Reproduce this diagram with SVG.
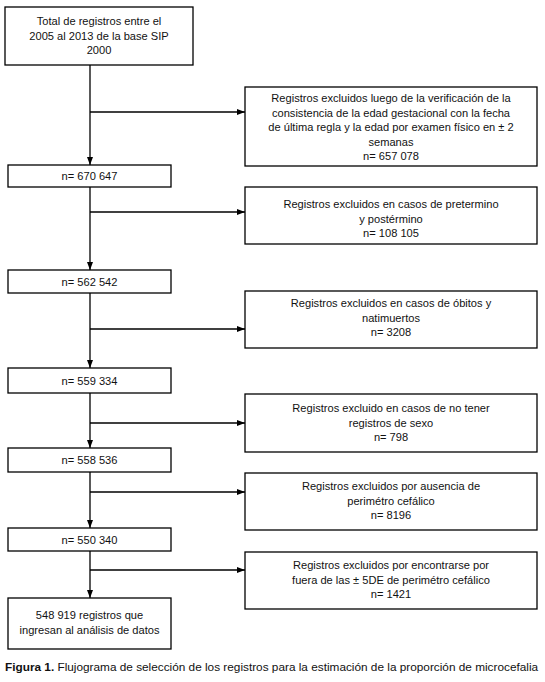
<svg xmlns="http://www.w3.org/2000/svg" width="545" height="682" viewBox="0 0 545 682">
<style>
.b{fill:#fff;stroke:#000;stroke-width:1.3}
.t{font-family:"Liberation Sans",Arial,sans-serif;font-size:11.1px;fill:#111;text-anchor:middle}
.c{stroke:#000;stroke-width:1.3;fill:none}
.cap{font-family:"Liberation Sans",Arial,sans-serif;font-size:11.8px;fill:#111}
</style>
<defs>
<marker id="ah" markerWidth="8" markerHeight="8" refX="8" refY="4" orient="auto" markerUnits="userSpaceOnUse">
<path d="M0,1 L8,4 L0,7 Z" fill="#000"/>
</marker>
</defs>
<rect width="545" height="682" fill="#fff"/>
<g id="connectors">
<line class="c" x1="90" y1="65" x2="90" y2="165" marker-end="url(#ah)"/>
<line class="c" x1="90" y1="112" x2="245" y2="112" marker-end="url(#ah)"/>
<line class="c" x1="90" y1="187" x2="90" y2="270" marker-end="url(#ah)"/>
<line class="c" x1="90" y1="212" x2="245" y2="212" marker-end="url(#ah)"/>
<line class="c" x1="90" y1="293" x2="90" y2="368" marker-end="url(#ah)"/>
<line class="c" x1="90" y1="329" x2="245" y2="329" marker-end="url(#ah)"/>
<line class="c" x1="90" y1="393" x2="90" y2="448" marker-end="url(#ah)"/>
<line class="c" x1="90" y1="423" x2="245" y2="423" marker-end="url(#ah)"/>
<line class="c" x1="90" y1="472" x2="90" y2="528" marker-end="url(#ah)"/>
<line class="c" x1="90" y1="492" x2="245" y2="492" marker-end="url(#ah)"/>
<line class="c" x1="90" y1="551" x2="90" y2="598" marker-end="url(#ah)"/>
<line class="c" x1="90" y1="570" x2="245" y2="570" marker-end="url(#ah)"/>
</g>
<g id="n1">
<rect class="b" x="5" y="7" width="188" height="58"/>
<text class="t" x="99" y="25">Total de registros entre el</text>
<text class="t" x="99" y="40">2005 al 2013 de la base SIP</text>
<text class="t" x="99" y="54">2000</text>
</g>
<g id="e1">
<rect class="b" x="245" y="87" width="292" height="79"/>
<text class="t" x="391" y="102">Registros excluidos luego de la verificación de la</text>
<text class="t" x="391" y="117">consistencia de la edad gestacional con la fecha</text>
<text class="t" x="391" y="131">de última regla y la edad por examen físico en ± 2</text>
<text class="t" x="391" y="146">semanas</text>
<text class="t" x="391" y="160">n= 657 078</text>
</g>
<g id="n2">
<rect class="b" x="8" y="165" width="163" height="22"/>
<text class="t" x="89.5" y="180">n= 670 647</text>
</g>
<g id="e2">
<rect class="b" x="245" y="187" width="292" height="57"/>
<text class="t" x="391" y="208">Registros excluidos en casos de pretermino</text>
<text class="t" x="391" y="223">y postérmino</text>
<text class="t" x="391" y="237">n= 108 105</text>
</g>
<g id="n3">
<rect class="b" x="8" y="270" width="163" height="23"/>
<text class="t" x="89.5" y="286">n= 562 542</text>
</g>
<g id="e3">
<rect class="b" x="245" y="291" width="292" height="57"/>
<text class="t" x="391" y="307">Registros excluidos en casos de óbitos y</text>
<text class="t" x="391" y="322">natimuertos</text>
<text class="t" x="391" y="336">n= 3208</text>
</g>
<g id="n4">
<rect class="b" x="8" y="368" width="163" height="25"/>
<text class="t" x="89.5" y="385">n= 559 334</text>
</g>
<g id="e4">
<rect class="b" x="245" y="394" width="292" height="58"/>
<text class="t" x="391" y="412">Registros excluido en casos de no tener</text>
<text class="t" x="391" y="427">registros de sexo</text>
<text class="t" x="391" y="441">n= 798</text>
</g>
<g id="n5">
<rect class="b" x="8" y="448" width="163" height="24"/>
<text class="t" x="89.5" y="464">n= 558 536</text>
</g>
<g id="e5">
<rect class="b" x="245" y="473" width="292" height="57"/>
<text class="t" x="391" y="490">Registros excluidos por ausencia de</text>
<text class="t" x="391" y="505">perimétro cefálico</text>
<text class="t" x="391" y="519">n= 8196</text>
</g>
<g id="n6">
<rect class="b" x="8" y="528" width="163" height="23"/>
<text class="t" x="89.5" y="544">n= 550 340</text>
</g>
<g id="e6">
<rect class="b" x="245" y="552" width="292" height="57"/>
<text class="t" x="391" y="569">Registros excluidos por encontrarse por</text>
<text class="t" x="391" y="584">fuera de las ± 5DE de perimétro cefálico</text>
<text class="t" x="391" y="598">n= 1421</text>
</g>
<g id="n7">
<rect class="b" x="8" y="598" width="163" height="51"/>
<text class="t" x="89.5" y="619">548 919 registros que</text>
<text class="t" x="89.5" y="634">ingresan al análisis de datos</text>
</g>
<text class="cap" x="5" y="671"><tspan font-weight="bold">Figura 1.</tspan> Flujograma de selección de los registros para la estimación de la proporción de microcefalia</text>
</svg>
